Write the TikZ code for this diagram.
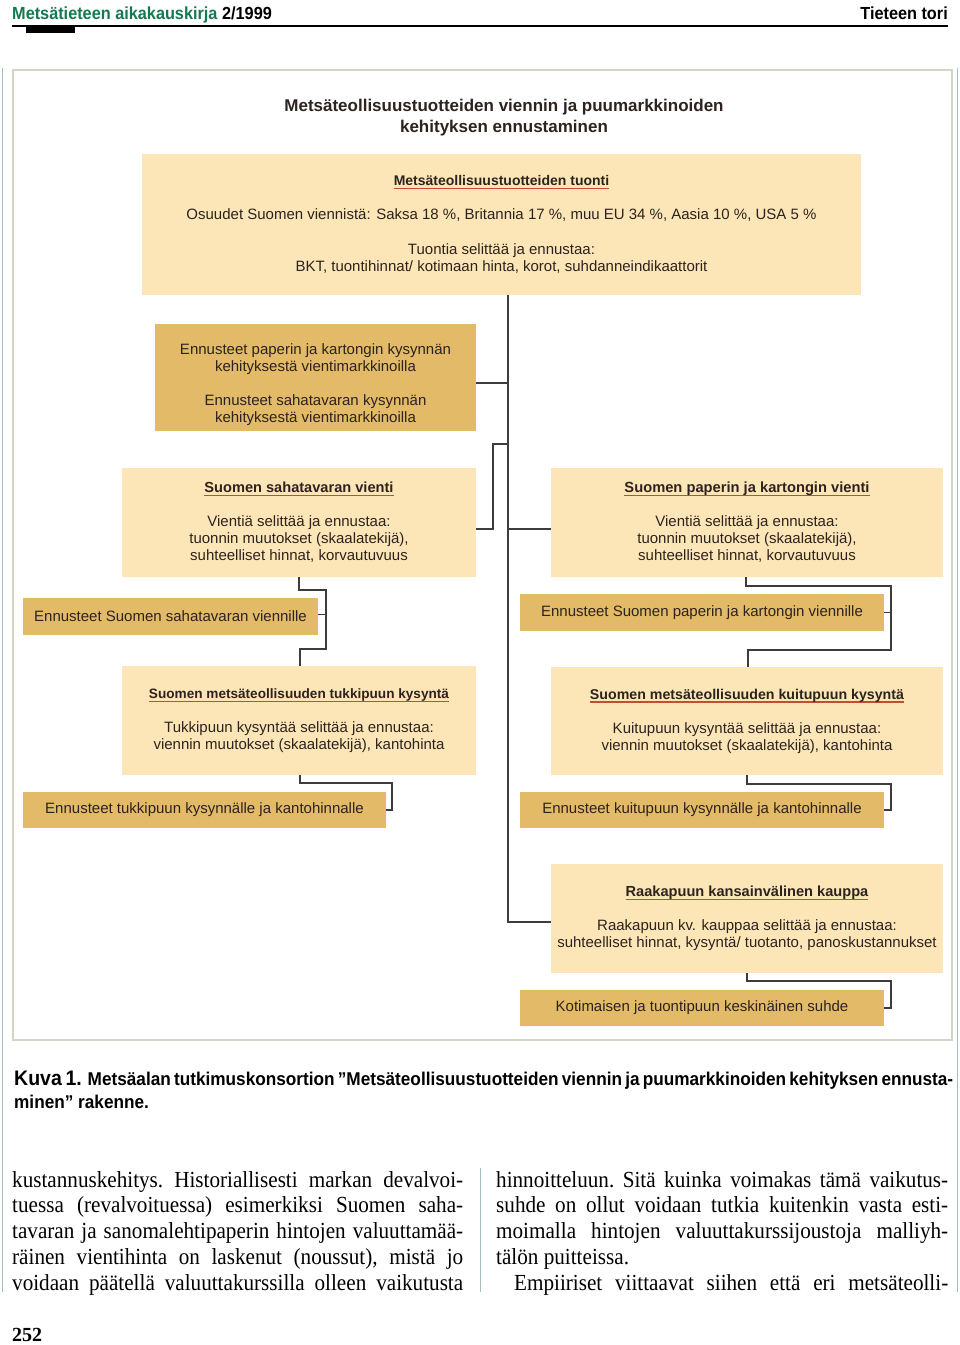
\documentclass[tikz,border=0pt]{standalone}
\usepackage{fontspec}
\setmainfont{Liberation Serif}
\setsansfont{Liberation Sans}
\newfontfamily\hnarrow[FakeStretch=0.93]{Liberation Sans}
\newfontfamily\bodyserif[FakeStretch=0.92]{Liberation Serif}
\usetikzlibrary{calc}
\definecolor{boxlight}{RGB}{252,230,184}
\definecolor{boxdark}{RGB}{226,186,104}
\definecolor{txt}{RGB}{45,35,30}
\definecolor{ulred}{RGB}{200,75,45}
\definecolor{hdrgreen}{RGB}{20,120,80}
\definecolor{linec}{RGB}{60,60,60}
\definecolor{framec}{RGB}{212,212,196}
\definecolor{edgec}{RGB}{165,190,192}
\newsavebox\ulbx
\newcommand\redul[1]{\sbox\ulbx{#1}\rlap{\color{ulred}\rule[-3.5pt]{\wd\ulbx}{1.3pt}}\usebox\ulbx}
\newcommand\boxtitle[2]{{\bfseries\fontsize{#1}{17}\selectfont\redul{#2}}}
\tikzset{
  lbox/.style={fill=boxlight, inner sep=0pt, align=center, text=txt, font=\sffamily\fontsize{15}{17}\selectfont},
  dbox/.style={fill=boxdark, inner sep=0pt, align=center, text=txt, font=\sffamily\fontsize{15}{17}\selectfont},
  conn/.style={draw=linec, line width=1.5pt},
  body/.style={anchor=base west, inner sep=0pt, font=\bodyserif\frenchspacing\fontsize{23}{25}\selectfont},
  captext/.style={anchor=base west, inner sep=0pt, font=\hnarrow\bfseries\fontsize{18.5}{20}\selectfont},
}
\begin{document}
\begin{tikzpicture}[x=1pt,y=-1pt]
\useasboundingbox (0,0) rectangle (960,1345);
\fill[white] (0,0) rectangle (960,1345);

% header
\node[anchor=base west, inner sep=0pt, text=hdrgreen, font=\hnarrow\bfseries\fontsize{17.5}{20}\selectfont] (hdr) at (12,19) {Metsätieteen aikakauskirja \textcolor{black}{2/1999}};
\node[anchor=base east, inner sep=0pt, font=\hnarrow\bfseries\fontsize{17.5}{20}\selectfont] (hdrr) at (948,19) {Tieteen tori};
\draw[line width=2pt] (12,26) -- (948,26);
\fill (26,26) rectangle (75,33);

% frame
\draw[edgec, line width=1.8pt] (2.5,68) -- (2.5,1292);
\draw[edgec, line width=1.8pt] (957.5,68) -- (957.5,1292);
\draw[framec, line width=2.5pt] (13,70) rectangle (952,1040);

% title
\node[align=center, inner sep=0pt, text=txt, font=\sffamily\bfseries\fontsize{17}{21}\selectfont] (title) at (504,117.5) {Metsäteollisuustuotteiden viennin ja puumarkkinoiden\\kehityksen ennustaminen};

% boxes
\node[lbox, minimum width=719pt, minimum height=141pt] (A) at (501.5,224.5) {\boxtitle{14}{Metsäteollisuustuotteiden tuonti}\\[17pt]Osuudet Suomen viennistä: Saksa 18 \%, Britannia 17 \%, muu EU 34 \%, Aasia 10 \%, USA 5 \%\\[18pt]Tuontia selittää ja ennustaa:\\BKT, tuontihinnat/ kotimaan hinta, korot, suhdanneindikaattorit};

\node[dbox, minimum width=321pt, minimum height=107pt] (B) at (315.5,377.5) {\rule{0pt}{26pt}Ennusteet paperin ja kartongin kysynnän\\kehityksestä vientimarkkinoilla\\[17pt]Ennusteet sahatavaran kysynnän\\kehityksestä vientimarkkinoilla};

\node[lbox, minimum width=354pt, minimum height=109pt] (C) at (299,522.5) {\boxtitle{14.6}{Suomen sahatavaran vienti}\\[17pt]Vientiä selittää ja ennustaa:\\tuonnin muutokset (skaalatekijä),\\suhteelliset hinnat, korvautuvuus};

\node[lbox, minimum width=392pt, minimum height=109pt] (D) at (747,522.5) {\boxtitle{14.7}{Suomen paperin ja kartongin vienti}\\[17pt]Vientiä selittää ja ennustaa:\\tuonnin muutokset (skaalatekijä),\\suhteelliset hinnat, korvautuvuus};

\node[dbox, minimum width=295pt, minimum height=37pt] (E) at (170.5,616.5) {Ennusteet Suomen sahatavaran viennille};
\node[dbox, minimum width=364pt, minimum height=37pt] (F) at (702,612.5) {Ennusteet Suomen paperin ja kartongin viennille};

\node[lbox, minimum width=354pt, minimum height=109pt] (G) at (299,720.5) {\boxtitle{13.6}{Suomen metsäteollisuuden tukkipuun kysyntä}\\[17pt]Tukkipuun kysyntää selittää ja ennustaa:\\viennin muutokset (skaalatekijä), kantohinta};

\node[lbox, minimum width=392pt, minimum height=108pt] (H) at (747,721) {\boxtitle{14.2}{Suomen metsäteollisuuden kuitupuun kysyntä}\\[17pt]Kuitupuun kysyntää selittää ja ennustaa:\\viennin muutokset (skaalatekijä), kantohinta};

\node[dbox, minimum width=363pt, minimum height=36pt] (I) at (204.5,810) {Ennusteet tukkipuun kysynnälle ja kantohinnalle};
\node[dbox, minimum width=364pt, minimum height=36pt] (J) at (702,810) {Ennusteet kuitupuun kysynnälle ja kantohinnalle};

\node[lbox, minimum width=392pt, minimum height=109pt] (K) at (747,918.5) {\boxtitle{14.6}{Raakapuun kansainvälinen kauppa}\\[17pt]Raakapuun kv. kauppaa selittää ja ennustaa:\\suhteelliset hinnat, kysyntä/ tuotanto, panoskustannukset};

\node[dbox, minimum width=364pt, minimum height=36pt] (L) at (702,1008) {Kotimaisen ja tuontipuun keskinäinen suhde};

% connectors
\coordinate (trunk) at (508,0);
\draw[conn] (A.south -| trunk) |- ($(K.west)+(0,3.5)$);
\draw[conn] ($(B.east)+(0,5.5)$) -- ++(32,0);
\draw[conn] ($(C.east)+(0,6.5)$) -- ++(17,0) |- ($(C.east)+(32,-78.5)$);
\draw[conn] ($(D.west)+(0,6.5)$) -- ++(-43,0);
\draw[conn] ($(C.south west)+(177,0)$) -- ++(0,13) -- ++(27,0) |- ($(G.north west)+(178,-17)$) -- ($(G.north west)+(178,0)$);
\draw[conn] ($(E.east)+(0,-2)$) -- ++(8,0);
\draw[conn] ($(D.south west)+(195,0)$) -- ++(0,9) -- ++(145,0) |- ($(H.north west)+(197,-17)$) -- ($(H.north west)+(197,0)$);
\draw[conn] (F.east) -- ++(7,0);
\draw[conn] ($(G.south west)+(178,0)$) -- ++(0,8) -| ($(I.east)+(6,0)$) -- (I.east);
\draw[conn] ($(H.south west)+(196,0)$) -- ++(0,9) -| ($(J.east)+(7,0)$) -- (J.east);
\draw[conn] ($(K.south west)+(196,0)$) -- ++(0,8) -| ($(L.east)+(7,0)$) -- (L.east);

% caption
\node[captext] (cap1) at (14,1085) {\makebox[936pt][s]{{\fontsize{21}{21}\selectfont Kuva 1.} Metsäalan tutkimuskonsortion ”Metsäteollisuustuotteiden viennin ja puumarkkinoiden kehityksen ennusta-}};
\node[captext] (cap2) at (14,1108) {minen” rakenne.};

% body text
\draw[edgec, line width=1pt] (480,1168) -- (480,1292);
\node[body] (l1) at (12,1187) {\makebox[451pt][s]{kustannuskehitys. Historiallisesti markan devalvoi-}};
\node[body] (l2) at (12,1212) {\makebox[451pt][s]{tuessa (revalvoituessa) esimerkiksi Suomen saha-}};
\node[body] (l3) at (12,1238) {\makebox[451pt][s]{tavaran ja sanomalehtipaperin hintojen valuuttamää-}};
\node[body] (l4) at (12,1264) {\makebox[451pt][s]{räinen vientihinta on laskenut (noussut), mistä jo}};
\node[body] (l5) at (12,1290) {\makebox[451pt][s]{voidaan päätellä valuuttakurssilla olleen vaikutusta}};
\node[body] (r1) at (496,1187) {\makebox[452pt][s]{hinnoitteluun. Sitä kuinka voimakas tämä vaikutus-}};
\node[body] (r2) at (496,1212) {\makebox[452pt][s]{suhde on ollut voidaan tutkia kuitenkin vasta esti-}};
\node[body] (r3) at (496,1238) {\makebox[452pt][s]{moimalla hintojen valuuttakurssijoustoja malliyh-}};
\node[body] (r4) at (496,1264) {tälön puitteissa.};
\node[body] (r5) at (514,1290) {\makebox[434pt][s]{Empiiriset viittaavat siihen että eri metsäteolli-}};

\node[anchor=base west, inner sep=0pt, font=\bfseries\fontsize{20}{20}\selectfont] (pg) at (12,1341) {252};
\end{tikzpicture}
\end{document}
